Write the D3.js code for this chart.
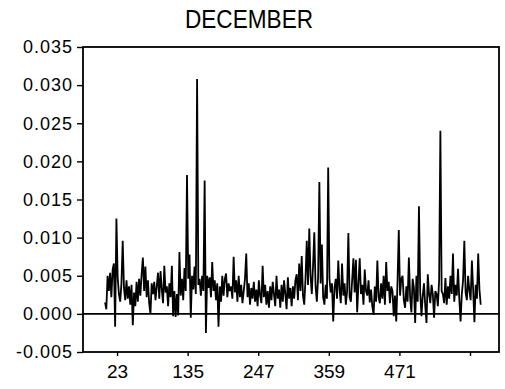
<!DOCTYPE html>
<html><head><meta charset="utf-8">
<script src="https://cdn.jsdelivr.net/npm/d3@7"></script>
<style>body{margin:0;background:#fff}</style>
</head><body>
<svg id="c" width="505" height="389"></svg>
<script>
const chartTitle = "DECEMBER";
// observation index of first value and spacing between values
const xStart = 4, xStep = 2;
// series values, in thousandths (x 0.001)
const seriesMilli = [
 1.5, 0.6, 5.0, 3.0, 5.4, 2.2, 5.8, 6.6, -1.7, 12.5,
 4.8, 2.6, 1.6, 4.0, 9.6, 3.4, 1.8, 4.4, 2.0, 3.6,
 1.2, 3.8, -1.5, 2.8, 1.0, 4.2, 1.6, 4.6, 2.4, 5.2,
 7.4, 3.0, 6.2, 2.2, 4.4, 1.4, 0.0, 4.0, 2.6, 4.2,
 1.8, 3.6, 5.4, 2.0, 5.6, 3.2, 1.4, 6.3, 2.8, 3.6,
 1.0, 4.0, 2.2, 6.3, -0.3, 3.0, -0.4, 2.6, -0.2, 8.1,
 2.4, 4.6, 1.8, 6.0, 3.0, 18.2, 4.6, 7.8, -0.5, 5.0,
 3.2, 6.2, 2.6, 30.8, 3.8, 4.6, 2.4, 5.0, 3.0, 17.5,
 -2.5, 5.0, 3.4, 4.8, 2.2, 6.8, 3.0, 4.4, 1.8, 4.0,
 -1.7, 3.6, 1.6, 5.0, 2.4, 4.6, 5.3, 2.2, 4.0, 3.0,
 3.6, 2.0, 7.5, 2.8, 4.4, 1.6, 5.0, 2.2, 3.8, 1.4,
 3.0, 4.6, 7.9, 2.2, 4.0, 1.2, 3.4, 2.0, 4.2, 1.6,
 3.2, 1.0, 4.4, 2.4, 1.4, 6.3, 2.2, 3.8, 1.2, 3.0,
 0.8, 3.6, 1.8, 4.2, 2.6, 1.0, 5.0, 2.0, 3.2, 0.8,
 3.8, 1.6, 4.4, 2.6, 0.6, 4.8, 2.0, 3.4, 1.0, 3.6,
 2.0, 4.4, 5.2, 1.8, 6.6, 3.0, 7.6, 2.4, 1.2, 4.6,
 9.6, 3.8, 11.2, 5.0, 2.6, 6.4, 10.7, 3.6, 1.6, 4.8,
 17.3, 4.0, 9.1, 2.2, 1.2, 3.8, 2.0, 19.2, 4.6, 2.8,
 4.0, -1.0, 3.4, 4.6, 2.0, 7.0, 3.2, 1.4, 6.6, 2.4,
 4.0, 1.2, 3.0, 10.6, 2.2, 1.6, 4.4, 7.3, 2.8, 7.1,
 0.2, 4.0, 7.3, 2.6, 3.8, 1.2, 5.8, 3.0, 2.4, 4.4,
 1.5, 3.2, 1.0, -0.1, 3.6, 1.6, 7.0, 2.2, 1.4, 4.0,
 2.0, 5.0, 1.2, 6.8, 3.0, 4.2, 1.4, 3.6, 3.0, -0.3,
 2.4, -1.0, 4.2, 11.0, 2.4, 4.6, 5.0, 1.8, 0.8, 3.6,
 1.6, 7.4, 2.2, 0.2, 4.6, 3.4, -1.2, 5.0, 1.6, 14.1,
 2.8, -0.3, 2.4, 4.0, 1.0, -1.2, 5.2, 2.6, 1.4, 3.8,
 2.6, -0.5, 3.0, 2.6, 1.0, 4.4, 24.0, 3.0, 2.6, 1.4,
 4.7, 1.2, 3.6, 2.0, 5.0, 2.6, 7.9, 1.6, 3.8, 2.4,
 5.9, 2.0, -1.0, 2.6, 4.4, 9.6, 2.8, 1.8, 5.0, 3.0,
 1.8, 7.0, 3.2, -1.1, 3.8, 2.0, 7.9, 3.2, 1.2
];
const xTickValues = [23, 135, 247, 359, 471, 583];
const xTickLabels = ["23", "135", "247", "359", "471", ""];
const yTickValues = [-0.005, 0, 0.005, 0.010, 0.015, 0.020, 0.025, 0.030, 0.035];
const yTickLabels = ["-0.005", "0.000", "0.005", "0.010", "0.015", "0.020", "0.025", "0.030", "0.035"];

const data = seriesMilli.map((v, i) => ({x: xStart + i * xStep, y: v / 1000}));

const L = 83, R = 499, T = 47, B = 352;
const svg = d3.select("#c");
const x = d3.scaleLinear().domain([-31, 629]).range([L, R]);
const y = d3.scaleLinear().domain([-0.005, 0.035]).range([B, T]);

// title
svg.append("text").attr("x", 249).attr("y", 28)
  .attr("text-anchor", "middle")
  .attr("font-family", "Liberation Sans, Arial, sans-serif")
  .attr("font-size", 25)
  .attr("textLength", 128).attr("lengthAdjust", "spacingAndGlyphs")
  .attr("fill", "#000").text(chartTitle);

// y axis
const yAxis = d3.axisLeft(y).tickValues(yTickValues)
  .tickFormat((d, i) => yTickLabels[i]).tickSize(6).tickPadding(4);
const gy = svg.append("g").attr("transform", `translate(${L},0)`).call(yAxis);
gy.select(".domain").remove();
gy.selectAll("line").attr("stroke", "#000").attr("stroke-width", 1.4);
gy.selectAll("text").attr("font-family", "Liberation Sans, Arial, sans-serif")
  .attr("font-size", 18).attr("letter-spacing", 1).attr("fill", "#000");

// x axis
const xAxis = d3.axisBottom(x).tickValues(xTickValues)
  .tickFormat((d, i) => xTickLabels[i]).tickSize(4).tickPadding(9);
const gx = svg.append("g").attr("transform", `translate(0,${B})`).call(xAxis);
gx.select(".domain").remove();
gx.selectAll("line").attr("stroke", "#000").attr("stroke-width", 1.4);
gx.selectAll("text").attr("font-family", "Liberation Sans, Arial, sans-serif")
  .attr("font-size", 19).attr("fill", "#000");

// frame
svg.append("rect").attr("x", L).attr("y", T).attr("width", R - L).attr("height", B - T)
  .attr("fill", "none").attr("stroke", "#000").attr("stroke-width", 1.8);

// zero line
svg.append("line").attr("x1", L).attr("x2", R).attr("y1", y(0)).attr("y2", y(0))
  .attr("stroke", "#000").attr("stroke-width", 1.6);

// series
const line = d3.line().x(d => x(d.x)).y(d => y(d.y));
svg.append("path").datum(data).attr("d", line)
  .attr("fill", "none").attr("stroke", "#000").attr("stroke-width", 1.8)
  .attr("stroke-linejoin", "miter");
</script>
</body></html>
